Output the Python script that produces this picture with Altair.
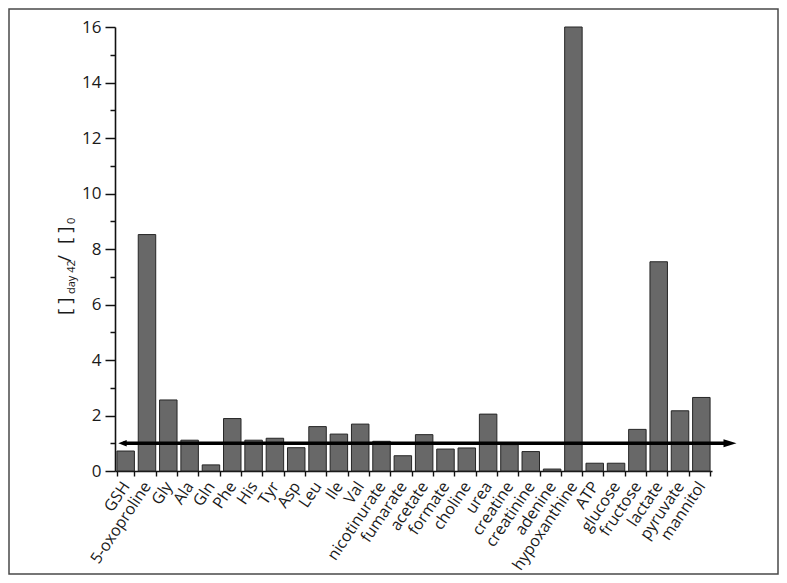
import altair as alt
import pandas as pd

categories = ["GSH", "5-oxoproline", "Gly", "Ala", "Gln", "Phe", "His", "Tyr", "Asp",
              "Leu", "Ile", "Val", "nicotinurate", "fumarate", "acetate", "formate",
              "choline", "urea", "creatine", "creatinine", "adenine", "hypoxanthine",
              "ATP", "glucose", "fructose", "lactate", "pyruvate", "mannitol"]
values = [0.72, 8.52, 2.56, 1.11, 0.22, 1.89, 1.11, 1.18, 0.84,
          1.60, 1.33, 1.69, 1.07, 0.55, 1.31, 0.79,
          0.83, 2.05, 0.95, 0.70, 0.07, 16.0,
          0.28, 0.28, 1.50, 7.54, 2.17, 2.65]
reference_level = [1]
y_ticks = list(range(0, 17))

FONT = "Open Sans"
TXT = "#1a1a1a"

df = pd.DataFrame({"cat": categories, "value": values})
ref = pd.DataFrame({"value": reference_level})
one = pd.DataFrame({"a": [0]})

yscale = alt.Scale(domain=[0, 16], nice=False)
yaxis = alt.Axis(title=None, values=y_ticks,
                 labelExpr="datum.value % 2 === 0 ? datum.label : ''",
                 tickSize={"condition": {"test": "datum.value % 2 === 0", "value": 10}, "value": 5},
                 labelFont=FONT, labelFontSize=17, labelColor=TXT,
                 labelPadding=4, tickColor="#111", tickWidth=1.5,
                 domainColor="#111", domainWidth=1.6, grid=False)


def y_enc():
    return alt.Y("value:Q", scale=yscale, axis=yaxis)


bars = alt.Chart(df).mark_bar(
    color="#686868", stroke="#262626", strokeWidth=1
).encode(
    x=alt.X("cat:N", sort=categories,
            scale=alt.Scale(paddingInner=0.18, paddingOuter=0.09),
            axis=alt.Axis(title=None, labelAngle=-56, labelAlign="right",
                          labelBaseline="middle", labelFont=FONT, labelFontSize=16,
                          labelColor=TXT, labelPadding=7, tickBand="extent",
                          tickSize=5, tickColor="#111", tickWidth=1.4,
                          domainColor="#111", domainWidth=1.6, labelOverlap=False)),
    y=y_enc()
)

arrow_line = alt.Chart(ref).mark_rule(color="black", strokeWidth=3.5).encode(
    x=alt.value(8), x2=alt.value(612), y=y_enc()
)
head_right = alt.Chart(ref).mark_point(
    shape="M -1 -0.62 L 1 0 L -1 0.62 Z", filled=True, color="black", size=169, opacity=1
).encode(x=alt.value(615), y=y_enc())
head_left = alt.Chart(ref).mark_point(
    shape="M 1 -0.75 L -1 0 L 1 0.75 Z", filled=True, color="black", size=70, opacity=1
).encode(x=alt.value(7.5), y=y_enc())

frame = alt.Chart(one).mark_rect(filled=False, stroke="#4a4a4a", strokeWidth=1.5).encode(
    x=alt.value(-106), x2=alt.value(663), y=alt.value(-18), y2=alt.value(547)
)


def title_piece(txt, x, y, size):
    return alt.Chart(one).mark_text(
        angle=270, align="left", baseline="alphabetic", font=FONT,
        fontSize=size, color=TXT
    ).encode(x=alt.value(x), y=alt.value(y), text=alt.value(txt))


t1 = title_piece("[ ]", -44, 288, 19)
t2 = title_piece("day 42", -40, 267, 11)
t3 = title_piece("/", -44, 235, 19)
t4 = title_piece("[ ]", -44, 217, 19)
t5 = title_piece("0", -40, 197, 11)

chart = alt.layer(
    bars, arrow_line, head_right, head_left, frame, t1, t2, t3, t4, t5
).properties(
    width=597, height=444,
    autosize=alt.AutoSizeParams(type="none"),
    padding={"left": 107, "top": 19, "right": 67, "bottom": 104},
    background="white"
).configure_view(stroke=None)

chart.save("out.html", embed_options={"renderer": "svg", "actions": False})
